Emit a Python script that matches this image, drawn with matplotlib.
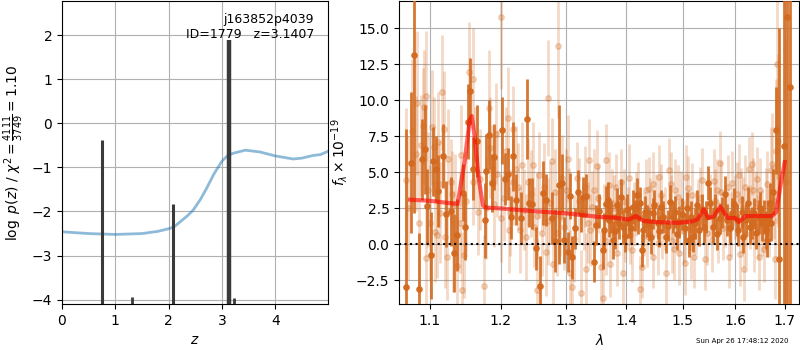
import matplotlib
matplotlib.use('Agg')
import matplotlib.pyplot as plt
from matplotlib.ticker import FixedLocator, FormatStrFormatter, NullLocator

# ── redshift fit panel ───────────────────────────────────────────
chi_z = [0.0, 0.5, 1.0, 1.5, 1.8, 2.0, 2.1, 2.25, 2.35, 2.46, 2.6, 2.71, 2.85,
         3.0, 3.1, 3.21, 3.44, 3.71, 4.0, 4.34, 4.5, 4.71, 4.85, 5.0]
chi_val = [-2.46, -2.5, -2.52, -2.5, -2.45, -2.39, -2.35, -2.2, -2.1, -1.97,
           -1.72, -1.48, -1.15, -0.86, -0.74, -0.68, -0.61, -0.65, -0.74,
           -0.81, -0.79, -0.73, -0.71, -0.63]

spike_z = [0.755, 1.31, 2.09, 3.13, 3.23]
spike_logp = [-0.38, -3.93, -1.83, 1.88, -3.95]
spike_lw = [2.2, 2.0, 2.2, 3.2, 2.0]

# ── spectrum panel: dark (primary) points ────────────────────────
dark_wave = [1.0685, 1.0751, 1.0786, 1.0852, 1.0897, 1.0932, 1.0964, 1.101,
             1.1044, 1.108, 1.1109, 1.1177, 1.1218, 1.1283, 1.1329, 1.1375,
             1.145, 1.1487, 1.1525, 1.155, 1.1596, 1.1649, 1.1763, 1.1787,
             1.1826, 1.187, 1.1899, 1.202, 1.206, 1.211, 1.2154, 1.218,
             1.2229, 1.2305, 1.2395, 1.2421, 1.2472, 1.2523, 1.2595, 1.2641,
             1.2678, 1.2772, 1.2819, 1.2892, 1.294, 1.2967, 1.3025, 1.3062,
             1.3098, 1.3147, 1.3196, 1.3235, 1.3272, 1.3326, 1.3457, 1.349,
             1.3596, 1.3653, 1.3708, 1.3765, 1.3832, 1.3876, 1.3935, 1.4048,
             1.4107, 1.4182, 1.4194, 1.4269, 1.428, 1.4326, 1.4398, 1.4427,
             1.4458, 1.4546, 1.4605, 1.4696, 1.4767, 1.4817, 1.4863, 1.4926,
             1.5047, 1.5111, 1.5153, 1.5233, 1.5353, 1.5397, 1.5479, 1.551,
             1.5567, 1.5606, 1.5697, 1.5798, 1.5844, 1.593, 1.6059, 1.6126,
             1.6206, 1.6285, 1.6372, 1.6473, 1.654, 1.6608, 1.6655, 1.6697,
             1.6758, 1.6826, 1.6888, 1.699, 1.7055, 1.7106,
             # denser stretch 1.35-1.68
             1.354, 1.3625, 1.368, 1.374, 1.380, 1.386, 1.391, 1.397,
             1.401, 1.408, 1.415, 1.423, 1.436, 1.449, 1.458, 1.465,
             1.473, 1.489, 1.498, 1.508, 1.519, 1.527, 1.531, 1.544,
             1.565, 1.575, 1.589, 1.598, 1.603, 1.616, 1.625, 1.633,
             1.642, 1.650, 1.658, 1.663, 1.672]
dark_flux = [-2.97, 5.67, 13.15, -3.1, 5.9, 6.6, 2.65, -0.76,
             5.76, 5.25, 3.73, 6.12, 2.1, 2.28, -0.58, 0.64,
             3.59, 1.22, 8.52, 10.64, 5.25, 7.2, 1.68, 5.07,
             7.6, 4.24, 6.05, 7.9, 4.51, 4.9, 1.87, 6.1,
             3.11, 1.8, 8.7, 2.88, 2.83, -0.28, -2.88, 3.57,
             3.06, 1.8, 0.25, 4.15, 4.26, 0.3, -0.51, 3.34,
             -0.9, 1.1, 3.64, 2.14, 3.29, 3.38, -1.2, 1.33,
             -0.39, 2.83, 1.68, 0.3, 2.72, 1.45, 1.22, 1.56,
             2.6, 3.41, 1.8, -0.39, 0.99, 2.25, 1.33, 0.53,
             2.14, 1.45, 2.6, 0.53, 2.94, 1.91, 2.25, 1.56,
             1.1, 0.3, 1.91, 1.45, 2.42, 1.22, 4.26, 2.88,
             1.22, 2.37, 1.8, 3.52, 1.68, 2.14, 0.99, 2.25,
             1.68, 1.22, 2.14, 1.91, 1.45, 0.99, 1.8, 2.88,
             3.64, 7.9, -1.02, 6.79, 15.78, 10.94,
             2.3, 1.0, 3.1, 1.9, 0.9, 2.0, 3.3, 0.6,
             2.4, 1.1, 2.0, 2.9, 1.6, 2.7, 0.9, 1.9,
             1.3, 0.7, 2.1, 2.5, 0.6, 2.7, 1.0, 1.9,
             0.7, 2.2, 1.1, 2.8, 1.7, 0.5, 2.9, 1.5,
             0.8, 2.5, 1.9, 0.3, 1.5]
dark_err = [11.0, 4.9, 11.0, 3.9, 2.8, 3.1, 2.6, 3.0,
            2.4, 2.3, 2.5, 2.2, 2.3, 2.4, 2.7, 2.5,
            2.0, 2.3, 2.6, 2.3, 2.2, 2.5, 2.6, 2.6,
            2.4, 2.0, 2.3, 2.3, 1.8, 1.8, 1.5, 2.4,
            1.8, 1.8, 2.8, 1.7, 1.8, 1.5, 2.1, 2.2,
            1.8, 1.8, 2.2, 5.5, 2.0, 1.6, 1.4, 1.6,
            1.5, 1.4, 1.5, 1.3, 1.4, 1.5, 1.4, 1.4,
            1.3, 1.2, 1.2, 1.3, 1.2, 1.1, 1.2, 1.1,
            1.2, 1.2, 1.1, 1.2, 1.1, 1.1, 1.1, 1.2,
            1.1, 1.1, 1.2, 1.1, 1.2, 1.1, 1.1, 1.1,
            1.1, 1.2, 1.1, 1.1, 1.1, 1.1, 1.2, 1.1,
            1.1, 1.1, 1.1, 1.2, 1.1, 1.1, 1.1, 1.1,
            1.1, 1.2, 1.1, 1.2, 1.2, 1.3, 1.3, 1.4,
            1.6, 3.0, 16.0, 14.0, 20.0, 18.0,
            1.2, 1.2, 1.2, 1.1, 1.2, 1.1, 1.2, 1.1,
            1.1, 1.1, 1.1, 1.1, 1.1, 1.1, 1.1, 1.1,
            1.1, 1.1, 1.1, 1.1, 1.1, 1.1, 1.1, 1.1,
            1.1, 1.1, 1.1, 1.1, 1.1, 1.1, 1.1, 1.1,
            1.1, 1.1, 1.2, 1.2, 1.3]

# ── spectrum panel: faint (secondary) points ─────────────────────
light_wave = [1.0685, 1.0764, 1.0809, 1.0852, 1.0875, 1.0906, 1.0923, 1.0942,
              1.095, 1.1031, 1.1054, 1.1064, 1.1091, 1.1113, 1.1122, 1.1167,
              1.1204, 1.1228, 1.1283, 1.1296, 1.1375, 1.1422, 1.1445, 1.1468,
              1.1539, 1.1596, 1.16, 1.1667, 1.1758, 1.1826, 1.1874, 1.1923,
              1.1997, 1.205, 1.211, 1.2118, 1.2176, 1.218, 1.225, 1.235,
              1.2447, 1.25, 1.2551, 1.258, 1.2678, 1.2718, 1.275, 1.2785,
              1.2798, 1.2871, 1.29, 1.30, 1.3034, 1.307, 1.3097, 1.318,
              1.3235, 1.3283, 1.3326, 1.3376, 1.339, 1.342, 1.3507, 1.357,
              1.3596, 1.362, 1.3653, 1.3708, 1.372, 1.378, 1.382, 1.3906,
              1.3935, 1.398, 1.4048, 1.407, 1.413, 1.42, 1.4241, 1.4269,
              1.4337, 1.436, 1.4386, 1.4458, 1.451, 1.4564, 1.463, 1.4696,
              1.4755, 1.4795, 1.481, 1.4863, 1.4937, 1.497, 1.5047, 1.5061,
              1.512, 1.5178, 1.5207, 1.529, 1.537, 1.545, 1.5556, 1.561,
              1.5651, 1.5697, 1.576, 1.5877, 1.5941, 1.599, 1.6073, 1.612,
              1.6171, 1.622, 1.6271, 1.6325, 1.6372, 1.641, 1.6438, 1.6473,
              1.653, 1.6608, 1.671, 1.6732, 1.683, 1.6846, 1.6866, 1.7034,
              # blue end fill
              1.071, 1.083, 1.098, 1.100, 1.114, 1.119, 1.125, 1.131,
              1.134, 1.141, 1.150, 1.163, 1.170, 1.179, 1.184, 1.190,
              1.195, 1.201, 1.208, 1.214, 1.222, 1.228, 1.232, 1.238,
              1.241, 1.248, 1.254, 1.262, 1.266, 1.271, 1.282, 1.286,
              1.293, 1.297, 1.305, 1.313, 1.321, 1.330, 1.335, 1.346,
              # red stretch fill
              1.352, 1.366, 1.376, 1.384, 1.395, 1.402, 1.410, 1.417,
              1.430, 1.441, 1.447, 1.455, 1.461, 1.468, 1.478, 1.484,
              1.491, 1.502, 1.510, 1.515, 1.524, 1.533, 1.541, 1.552,
              1.558, 1.567, 1.573, 1.581, 1.585, 1.592, 1.603, 1.609,
              1.615, 1.619, 1.630, 1.636, 1.645, 1.650, 1.657, 1.664,
              1.668, 1.678, 1.681]
light_flux = [4.44, 7.85, 6.29, 1.45, 6.86, 8.24, 9.5, 10.27,
              -0.97, 8.13, 6.75, 0.87, 0.64, 7.1, 4.2, 10.55,
              0.48, -0.86, 4.33, 3.5, -1.5, 6.17, -3.16, -0.74,
              11.93, 11.5, 4.33, 2.25, -2.88, 9.47, 5.25, 7.67,
              15.8, 3.2, 8.78, 0.99, 4.33, 7.97, 4.0, 2.4,
              3.52, 1.2, -3.16, 4.8, -0.55, 10.16, 2.9, 5.78,
              -1.38, 13.77, 2.0, 3.8, 5.94, -2.0, -2.93, 4.6,
              -3.39, 2.1, -1.73, 5.87, 0.99, 2.6, 5.41, -1.55,
              -3.73, 1.9, 5.83, 4.1, -1.36, 2.5, 3.98, 4.33,
              -2.0, 1.0, 4.63, 0.64, 2.1, 3.5, -3.1, -1.55,
              3.75, 0.6, 3.87, -0.86, 2.7, 4.67, 1.2, -2.0,
              5.18, 4.22, 0.2, 3.75, -0.62, 2.9, -1.31, 4.67,
              1.6, 3.41, -0.86, 2.3, 4.49, 0.8, 0.3, 3.0,
              3.75, 5.64, 1.1, -0.86, 4.26, 2.6, 4.79, 3.1,
              -1.73, 0.7, 5.25, 5.6, 0.3, 2.9, 4.56, -0.86,
              1.5, 2.83, 5.13, 5.6, 6.5, 12.5, 7.2, 4.33,
              2.5, 9.8, 3.8, 1.5, 2.2, 8.0, 5.9, 0.2,
              2.8, 1.5, 3.0, 6.0, 4.5, 2.5, 6.7, 2.8,
              4.9, 1.8, 6.5, 2.2, 5.2, 1.0, 5.5, 0.5,
              4.3, 5.5, 2.0, 0.8, 4.0, 1.6, 3.6, 0.8,
              4.6, 1.2, 2.3, 0.4, 3.0, 4.0, 1.5, 3.8,
              3.2, 0.2, 2.9, -0.6, 3.0, 1.8, -0.4, 2.8,
              1.4, 2.4, 4.2, 0.1, 3.4, 1.8, 2.6, -0.3,
              3.3, 0.9, 3.9, -0.2, 1.5, 3.2, -1.0, 2.7,
              4.4, 0.9, 3.6, 2.0, 4.0, 1.4, 3.5, -0.7,
              2.5, 4.0, 1.9, 3.8, 1.2, 3.8, -0.3, 4.2,
              1.5, 3.0, -1.0]
light_err = [5.0, 5.0, 4.0, 4.5, 3.5, 4.0, 4.0, 4.5,
             3.5, 4.0, 3.5, 3.5, 3.0, 3.5, 3.0, 4.0,
             3.5, 3.0, 3.0, 3.0, 3.5, 3.5, 4.0, 3.0,
             3.5, 3.5, 3.0, 3.0, 3.5, 4.0, 3.0, 3.5,
             5.0, 3.0, 3.5, 3.0, 3.0, 3.0, 3.0, 2.8,
             3.0, 2.8, 3.5, 3.0, 3.0, 4.0, 2.8, 3.0,
             3.0, 5.0, 2.8, 2.8, 3.0, 3.0, 3.0, 2.5,
             3.0, 2.5, 2.5, 2.8, 2.5, 2.5, 2.5, 2.5,
             2.5, 2.3, 2.5, 2.3, 2.3, 2.3, 2.3, 2.3,
             2.3, 2.2, 2.3, 2.0, 2.2, 2.2, 2.3, 2.2,
             2.2, 2.2, 2.2, 2.2, 2.2, 2.2, 2.2, 2.2,
             2.2, 2.2, 2.2, 2.2, 2.2, 2.2, 2.2, 2.2,
             2.2, 2.2, 2.2, 2.2, 2.2, 2.2, 2.2, 2.2,
             2.2, 2.2, 2.2, 2.2, 2.2, 2.2, 2.2, 2.2,
             2.2, 2.2, 2.2, 2.2, 2.2, 2.2, 2.2, 2.3,
             2.3, 2.5, 3.0, 3.5, 5.0, 8.0, 6.0, 10.0,
             5.0, 5.0, 4.0, 4.0, 3.5, 4.0, 3.5, 3.5,
             3.5, 3.5, 3.5, 3.5, 3.5, 3.5, 3.5, 3.0,
             3.0, 3.0, 3.0, 3.0, 3.0, 3.0, 3.0, 3.0,
             3.0, 3.0, 3.0, 3.0, 3.0, 3.0, 3.0, 3.0,
             3.0, 3.0, 3.0, 3.0, 3.0, 2.8, 2.8, 2.8,
             2.4, 2.3, 2.3, 2.3, 2.2, 2.2, 2.2, 2.2,
             2.2, 2.2, 2.2, 2.2, 2.2, 2.2, 2.2, 2.2,
             2.2, 2.2, 2.2, 2.2, 2.2, 2.2, 2.2, 2.2,
             2.2, 2.2, 2.2, 2.2, 2.2, 2.2, 2.2, 2.2,
             2.2, 2.2, 2.2, 2.2, 2.2, 2.2, 2.3, 2.3,
             2.4, 2.6, 2.8]

# ── best-fit template ────────────────────────────────────────────
model_wave = [1.0735, 1.10, 1.12, 1.138, 1.148, 1.155, 1.158, 1.162, 1.168,
              1.174, 1.178, 1.20, 1.25, 1.30, 1.352, 1.38, 1.404, 1.4165,
              1.429, 1.45, 1.4912, 1.518, 1.528, 1.5397, 1.548, 1.5586,
              1.571, 1.5858, 1.5998, 1.6075, 1.62, 1.65, 1.674, 1.6826,
              1.6915, 1.7003]
model_flux = [3.1, 3.02, 2.9, 2.8, 5.8, 8.6, 8.9, 7.5, 4.5,
              2.7, 2.55, 2.49, 2.3, 2.15, 1.91, 1.85, 1.72, 1.96,
              1.63, 1.55, 1.49, 1.6, 1.75, 2.42, 1.83, 1.93,
              2.6, 1.83, 1.83, 1.56, 1.96, 1.97, 1.96, 2.25,
              4.1, 5.71]

ORANGE = '#d2691e'

fig = plt.figure(figsize=(8, 3.5), dpi=100)

# left panel: p(z)
ax1 = fig.add_axes([0.0775, 0.131, 0.3325, 0.866])
ax1.plot(chi_z, chi_val, color='#1f77b4', alpha=0.5, lw=2)
for zz, lp, lw in zip(spike_z, spike_logp, spike_lw):
    ax1.vlines(zz, -4.5, lp, color='#3a3a3a', lw=lw)
ax1.set_xlim(0, 4.99)
ax1.set_ylim(-4.1, 2.77)
ax1.set_xticks([0, 1, 2, 3, 4])
ax1.set_yticks([-4, -3, -2, -1, 0, 1, 2])
ax1.grid(True)
ax1.set_axisbelow(True)
ax1.set_xlabel(r'$z$')
ax1.set_ylabel(r'$\log\ p(z)$ / $\chi^2=\frac{4111}{3749}=1.10$')
ax1.text(0.948, 0.962, 'j163852p4039\nID=1779   z=3.1407',
         transform=ax1.transAxes, ha='right', va='top', multialignment='right',
         fontsize=9)

# right panel: spectrum
ax2 = fig.add_axes([0.499, 0.131, 0.5, 0.866])
ax2.errorbar(light_wave, light_flux, yerr=light_err, fmt='o', color=ORANGE,
             alpha=0.25, ms=4, elinewidth=2, capsize=0, zorder=2)
ax2.errorbar(dark_wave, dark_flux, yerr=dark_err, fmt='o', color=ORANGE,
             alpha=0.9, ms=3.8, elinewidth=2, capsize=0, zorder=3)
ax2.plot(model_wave, model_flux, color='red', alpha=0.6, lw=3, zorder=4)
ax2.axhline(0, color='k', ls=':', lw=1.5, zorder=5)
ax2.set_xscale('log')
ax2.set_xlim(1.0593, 1.7307)
ax2.set_ylim(-4.15, 16.88)
ax2.xaxis.set_major_locator(FixedLocator([1.1, 1.2, 1.3, 1.4, 1.5, 1.6, 1.7]))
ax2.xaxis.set_major_formatter(FormatStrFormatter('%.1f'))
ax2.xaxis.set_minor_locator(NullLocator())
ax2.grid(True)
ax2.set_axisbelow(True)
ax2.set_xlabel(r'$\lambda$')
ax2.set_ylabel(r'$f_\lambda\times 10^{-19}$')

fig.text(0.985, 0.027, 'Sun Apr 26 17:48:12 2020', ha='right', va='center',
         fontsize=5)

plt.savefig('out.png', dpi=100)
